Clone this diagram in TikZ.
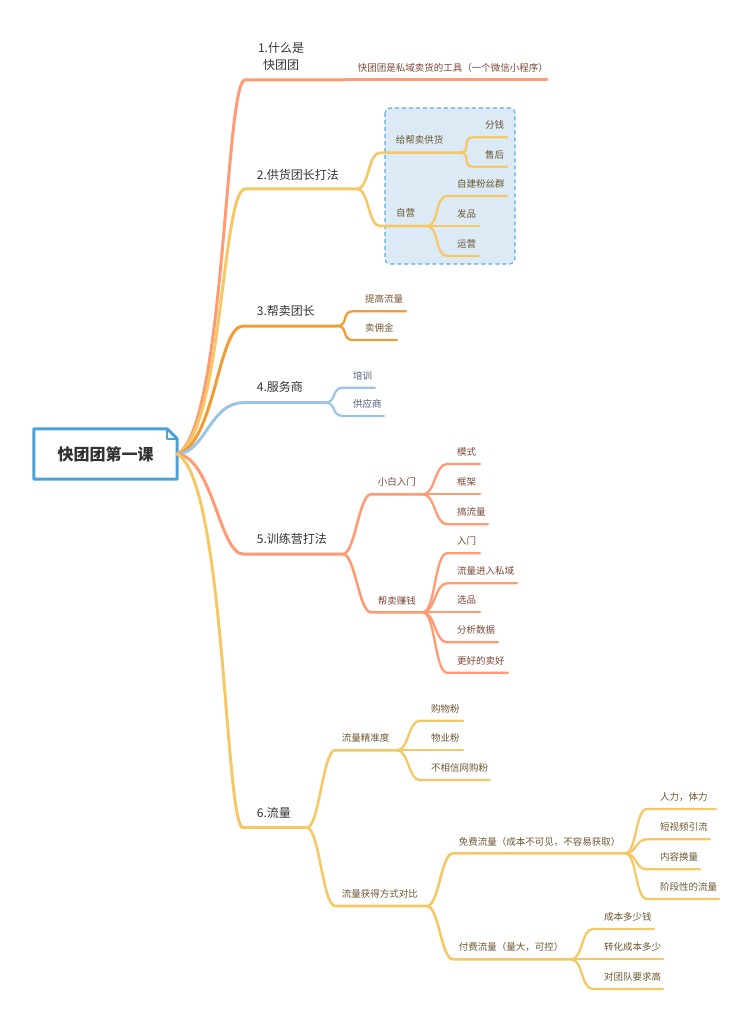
\documentclass[tikz,border=0pt]{standalone}
\usepackage{fontspec}
\setmainfont{Noto Sans CJK SC}
\definecolor{cSalmon}{HTML}{FF9A72}
\definecolor{cYellow}{HTML}{F6C865}
\definecolor{cOrange}{HTML}{F19C34}
\definecolor{cBlue}{HTML}{9CC4E7}
\definecolor{tSalmon}{HTML}{7B4636}
\definecolor{tYellow}{HTML}{6B5730}
\definecolor{tOrange}{HTML}{785633}
\definecolor{tBlue}{HTML}{4D5E78}
\definecolor{topicgray}{HTML}{333333}
\definecolor{rootblue}{HTML}{4BA2DA}
\definecolor{boxfill}{HTML}{DCEAF6}
\definecolor{boxline}{HTML}{5AAAE5}
\tikzset{
  mainline/.style={line width=3pt, line cap=round},
  subline/.style={line width=2.6pt, line cap=round},
  leafline/.style={line width=2.3pt, line cap=round},
  rootbox/.style={minimum width=143pt, minimum height=50pt, inner sep=0pt,
    font=\fontsize{16}{18}\selectfont\bfseries, text=topicgray},
  topic/.style={anchor=west, inner sep=0pt, font=\fontsize{12}{17}\selectfont, text=topicgray},
  subtopic/.style={anchor=west, inner sep=0pt, font=\fontsize{9.5}{11}\selectfont},
  branchto/.style={out=0, in=180, distance=12pt},
  dashbox/.style={fill=boxfill, draw=boxline, line width=1.1pt,
    dash pattern=on 4pt off 3pt, rounded corners=5pt}
}
\begin{document}
\begin{tikzpicture}[x=1pt, y=-1pt]
  \useasboundingbox (0,0) rectangle (753,1024);
  \draw[dashbox] (385,108) rectangle (515,264);

  % root
  \node[rootbox] (root) at (105.5,454) {快团团第一课};
  \draw[rootblue, line width=3pt, fill=white, line join=round]
    (root.south west) -- (root.north west) -- ([xshift=-10pt]root.north east)
    -- ([yshift=-10pt]root.north east) -- (root.south east) -- cycle;
  \draw[rootblue, line width=1.5pt, line join=round]
    ([xshift=-10pt]root.north east) -- ([xshift=-10pt,yshift=-10pt]root.north east)
    -- ([yshift=-10pt]root.north east);
  \node[rootbox] at (root.center) {快团团第一课};

  % main topics
  \coordinate (t1-s) at (245,80);    \coordinate (t1-e) at (345,80);
  \coordinate (t2-s) at (245,189);   \coordinate (t2-e) at (357,189);
  \coordinate (t3-s) at (243,326);   \coordinate (t3-e) at (337,326);
  \coordinate (t4-s) at (243,402.7); \coordinate (t4-e) at (325,402.7);
  \coordinate (t5-s) at (243,554);   \coordinate (t5-e) at (343,554);
  \coordinate (t6-s) at (243,827.7); \coordinate (t6-e) at (307,827.7);
  \draw[mainline, cSalmon] (root.east) .. controls (225,430) and (225,80) .. (t1-s) -- (t1-e);
  \draw[mainline, cYellow] (root.east) .. controls (222,435) and (222,189) .. (t2-s) -- (t2-e);
  \draw[mainline, cOrange] (root.east) .. controls (215,445) and (218,326) .. (t3-s) -- (t3-e);
  \draw[mainline, cBlue] (root.east) .. controls (205,453) and (210,402.7) .. (t4-s) -- (t4-e);
  \draw[mainline, cSalmon] (root.east) .. controls (212,457) and (220,554) .. (t5-s) -- (t5-e);
  \draw[mainline, cYellow] (root.east) .. controls (225,480) and (225,827.7) .. (t6-s) -- (t6-e);
  \node[topic, anchor=center, align=center] (t1) at (281,56.5) {1.什么是\\快团团};
  \node[topic] (t2) at (256.7,175) {2.供货团长打法};
  \node[topic] (t3) at (256.7,311) {3.帮卖团长};
  \node[topic] (t4) at (256.7,387) {4.服务商};
  \node[topic] (t5) at (256.7,539) {5.训练营打法};
  \node[topic] (t6) at (256.7,813) {6.流量};

  % second level
  \coordinate (t1a-e) at (547,80);
  \draw[mainline, cSalmon] (t1-e) -- (t1a-e);
  \node[subtopic, text=tSalmon] (t1a) at (357.7,68) {快团团是私域卖货的工具（一个微信小程序）};

  \coordinate (t2a-s) at (380,152.7); \coordinate (t2a-e) at (460,152.7);
  \coordinate (t2b-s) at (380,226);   \coordinate (t2b-e) at (427,226);
  \draw[subline, cYellow] (t2-e) to[branchto] (t2a-s) -- (t2a-e);
  \draw[subline, cYellow] (t2-e) to[branchto] (t2b-s) -- (t2b-e);
  \node[subtopic, text=tYellow] (t2a) at (395.7,140) {给帮卖供货};
  \node[subtopic, text=tYellow] (t2b) at (396,213) {自营};

  \coordinate (t5a-s) at (371,494.3); \coordinate (t5a-e) at (423,494.3);
  \coordinate (t5b-s) at (371,612.3); \coordinate (t5b-e) at (423,612.3);
  \draw[subline, cSalmon] (t5-e) to[branchto] (t5a-s) -- (t5a-e);
  \draw[subline, cSalmon] (t5-e) to[branchto] (t5b-s) -- (t5b-e);
  \node[subtopic, text=tSalmon] (t5a) at (377.7,482.3) {小白入门};
  \node[subtopic, text=tSalmon] (t5b) at (377.7,600.7) {帮卖赚钱};

  \coordinate (t6a-s) at (335,750.3); \coordinate (t6a-e) at (397,750.3);
  \coordinate (t6b-s) at (335,906);   \coordinate (t6b-e) at (427,906);
  \draw[subline, cYellow] (t6-e) to[branchto] (t6a-s) -- (t6a-e);
  \draw[subline, cYellow] (t6-e) to[branchto] (t6b-s) -- (t6b-e);
  \node[subtopic, text=tYellow] (t6a) at (341.7,738.3) {流量精准度};
  \node[subtopic, text=tYellow] (t6b) at (341.7,894.3) {流量获得方式对比};

  \coordinate (t6ba-s) at (453,853.3); \coordinate (t6ba-e) at (625,853.3);
  \coordinate (t6bb-s) at (453,959.3); \coordinate (t6bb-e) at (571,959.3);
  \draw[subline, cYellow] (t6b-e) to[branchto] (t6ba-s) -- (t6ba-e);
  \draw[subline, cYellow] (t6b-e) to[branchto] (t6bb-s) -- (t6bb-e);
  \node[subtopic, text=tYellow] (t6ba) at (458.7,841.7) {免费流量（成本不可见，不容易获取）};
  \node[subtopic, text=tYellow] (t6bb) at (458.7,946.7) {付费流量（量大，可控）};

  % leaves
  \foreach \n/\y/\e/\t in {t2a1/137.3/507/分钱, t2a2/166.7/507/售后}{
    \coordinate (\n-s) at (473,\y); \coordinate (\n-e) at (\e,\y);
    \draw[leafline, cYellow] (t2a-e) to[branchto] (\n-s) -- (\n-e);
    \node[subtopic, text=tYellow] (\n) at (485,\y-12) {\t};
  }
  \foreach \n/\y/\e/\t in {t2b1/196/507/自建粉丝群, t2b2/226/479/发品, t2b3/256/479/运营}{
    \coordinate (\n-s) at (447,\y); \coordinate (\n-e) at (\e,\y);
    \draw[leafline, cYellow] (t2b-e) to[branchto] (\n-s) -- (\n-e);
    \node[subtopic, text=tYellow] (\n) at (457,\y-12) {\t};
  }
  \foreach \n/\y/\e/\t in {t3a/311.3/406/提高流量, t3b/340/397/卖佣金}{
    \coordinate (\n-s) at (353,\y); \coordinate (\n-e) at (\e,\y);
    \draw[leafline, cOrange] (t3-e) to[branchto] (\n-s) -- (\n-e);
    \node[subtopic, text=tOrange] (\n) at (365,\y-12) {\t};
  }
  \foreach \n/\y/\e/\t in {t4a/387.7/375/培训, t4b/416/384/供应商}{
    \coordinate (\n-s) at (343,\y); \coordinate (\n-e) at (\e,\y);
    \draw[leafline, cBlue] (t4-e) to[branchto] (\n-s) -- (\n-e);
    \node[subtopic, text=tBlue] (\n) at (353,\y-12) {\t};
  }
  \foreach \n/\y/\e/\t in {t5a1/464/480/模式, t5a2/494.3/480/框架, t5a3/524.3/488/搞流量}{
    \coordinate (\n-s) at (447,\y); \coordinate (\n-e) at (\e,\y);
    \draw[leafline, cSalmon] (t5a-e) to[branchto] (\n-s) -- (\n-e);
    \node[subtopic, text=tSalmon] (\n) at (457,\y-12) {\t};
  }
  \foreach \n/\y/\e/\t in {t5b1/553.3/480/入门, t5b2/583.3/517/流量进入私域, t5b3/612.3/480/选品,
      t5b4/642.3/498/分析数据, t5b5/672.7/508/更好的卖好}{
    \coordinate (\n-s) at (447,\y); \coordinate (\n-e) at (\e,\y);
    \draw[leafline, cSalmon] (t5b-e) to[branchto] (\n-s) -- (\n-e);
    \node[subtopic, text=tSalmon] (\n) at (457,\y-12) {\t};
  }
  \foreach \n/\y/\e/\t in {t6a1/720.7/463/购物粉, t6a2/750.3/463/物业粉, t6a3/780/490/不相信网购粉}{
    \coordinate (\n-s) at (420,\y); \coordinate (\n-e) at (\e,\y);
    \draw[leafline, cYellow] (t6a-e) to[branchto] (\n-s) -- (\n-e);
    \node[subtopic, text=tYellow] (\n) at (431,\y-12) {\t};
  }
  \foreach \n/\y/\e/\t in {t6ba1/809/716/人力，体力, t6ba2/839.3/710/短视频引流,
      t6ba3/869.3/700/内容换量, t6ba4/899/719/阶段性的流量}{
    \coordinate (\n-s) at (647,\y); \coordinate (\n-e) at (\e,\y);
    \draw[leafline, cYellow] (t6ba-e) to[branchto] (\n-s) -- (\n-e);
    \node[subtopic, text=tYellow] (\n) at (660,\y-12) {\t};
  }
  \foreach \n/\y/\e/\t in {t6bb1/929/654/成本多少钱, t6bb2/959.3/663/转化成本多少, t6bb3/989/663/对团队要求高}{
    \coordinate (\n-s) at (593,\y); \coordinate (\n-e) at (\e,\y);
    \draw[leafline, cYellow] (t6bb-e) to[branchto] (\n-s) -- (\n-e);
    \node[subtopic, text=tYellow] (\n) at (604,\y-12) {\t};
  }
\end{tikzpicture}
\end{document}
